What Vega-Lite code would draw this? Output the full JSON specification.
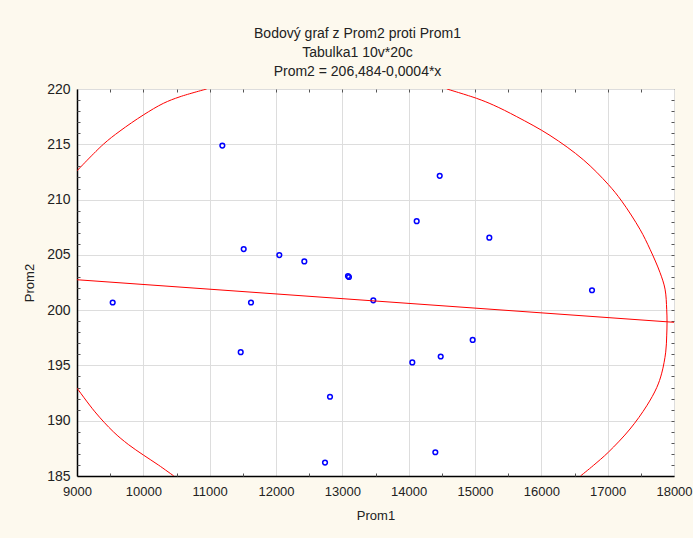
{
  "$schema": "https://vega.github.io/schema/vega-lite/v6.json",
  "width": 597,
  "height": 387,
  "autosize": {"type": "none"},
  "padding": {"left": 77, "top": 89, "right": 19, "bottom": 62},
  "background": "#fdf9ee",
  "config": {
    "view": {"fill": "#ffffff", "stroke": "#333333", "strokeWidth": 1},
    "font": "Liberation Sans"
  },
  "title": {
    "text": ["Bodový graf z Prom2 proti Prom1", "Tabulka1 10v*20c", "Prom2 = 206,484-0,0004*x"],
    "fontSize": 14,
    "fontWeight": "normal",
    "font": "Liberation Sans",
    "color": "#222222",
    "anchor": "middle",
    "lineHeight": 19,
    "offset": 3,
    "dx": -18
  },
  "datasets": {
    "pts": [
      {"Prom1": 9538, "Prom2": 200.69},
      {"Prom1": 11191, "Prom2": 214.88},
      {"Prom1": 11513, "Prom2": 205.52},
      {"Prom1": 11623, "Prom2": 200.69},
      {"Prom1": 12050, "Prom2": 204.98},
      {"Prom1": 12427, "Prom2": 204.41},
      {"Prom1": 13085, "Prom2": 203.08},
      {"Prom1": 13100, "Prom2": 203.0},
      {"Prom1": 13467, "Prom2": 200.89},
      {"Prom1": 14121, "Prom2": 208.05},
      {"Prom1": 14468, "Prom2": 212.15},
      {"Prom1": 15216, "Prom2": 206.55},
      {"Prom1": 16764, "Prom2": 201.8},
      {"Prom1": 11468, "Prom2": 196.2},
      {"Prom1": 12814, "Prom2": 192.17},
      {"Prom1": 12739, "Prom2": 186.21},
      {"Prom1": 14055, "Prom2": 195.27},
      {"Prom1": 14483, "Prom2": 195.81},
      {"Prom1": 14965, "Prom2": 197.31},
      {"Prom1": 14402, "Prom2": 187.15}
    ],
    "reg": [
      {"Prom1": 9000, "Prom2": 202.75},
      {"Prom1": 18000, "Prom2": 198.9}
    ],
    "ell": [
      {"seg": "tl", "ord": 1, "Prom1": 9000, "Prom2": 212.6},
      {"seg": "tl", "ord": 2, "Prom1": 9397, "Prom2": 215.0},
      {"seg": "tl", "ord": 3, "Prom1": 9648, "Prom2": 216.2},
      {"seg": "tl", "ord": 4, "Prom1": 10000, "Prom2": 217.65},
      {"seg": "tl", "ord": 5, "Prom1": 10301, "Prom2": 218.7},
      {"seg": "tl", "ord": 6, "Prom1": 10553, "Prom2": 219.3},
      {"seg": "tl", "ord": 7, "Prom1": 10955, "Prom2": 220},
      {"seg": "r", "ord": 1, "Prom1": 14575, "Prom2": 220},
      {"seg": "r", "ord": 2, "Prom1": 15026, "Prom2": 219.15},
      {"seg": "r", "ord": 3, "Prom1": 15276, "Prom2": 218.55},
      {"seg": "r", "ord": 4, "Prom1": 15629, "Prom2": 217.5},
      {"seg": "r", "ord": 5, "Prom1": 16131, "Prom2": 215.8},
      {"seg": "r", "ord": 6, "Prom1": 16633, "Prom2": 213.6},
      {"seg": "r", "ord": 7, "Prom1": 17010, "Prom2": 211.36},
      {"seg": "r", "ord": 8, "Prom1": 17212, "Prom2": 209.86},
      {"seg": "r", "ord": 9, "Prom1": 17488, "Prom2": 207.3},
      {"seg": "r", "ord": 10, "Prom1": 17639, "Prom2": 205.5},
      {"seg": "r", "ord": 11, "Prom1": 17789, "Prom2": 203.4},
      {"seg": "r", "ord": 12, "Prom1": 17865, "Prom2": 201.9},
      {"seg": "r", "ord": 13, "Prom1": 17890, "Prom2": 200.08},
      {"seg": "r", "ord": 14, "Prom1": 17895, "Prom2": 198.9},
      {"seg": "r", "ord": 15, "Prom1": 17890, "Prom2": 197.67},
      {"seg": "r", "ord": 16, "Prom1": 17875, "Prom2": 196.2},
      {"seg": "r", "ord": 17, "Prom1": 17815, "Prom2": 194.3},
      {"seg": "r", "ord": 18, "Prom1": 17740, "Prom2": 193.0},
      {"seg": "r", "ord": 19, "Prom1": 17589, "Prom2": 191.35},
      {"seg": "r", "ord": 20, "Prom1": 17337, "Prom2": 189.25},
      {"seg": "r", "ord": 21, "Prom1": 17010, "Prom2": 187.15},
      {"seg": "r", "ord": 22, "Prom1": 16784, "Prom2": 185.95},
      {"seg": "r", "ord": 23, "Prom1": 16590, "Prom2": 185},
      {"seg": "bl", "ord": 1, "Prom1": 9000, "Prom2": 192.95},
      {"seg": "bl", "ord": 2, "Prom1": 9271, "Prom2": 190.8},
      {"seg": "bl", "ord": 3, "Prom1": 9548, "Prom2": 189.0},
      {"seg": "bl", "ord": 4, "Prom1": 9774, "Prom2": 187.85},
      {"seg": "bl", "ord": 5, "Prom1": 10000, "Prom2": 186.9},
      {"seg": "bl", "ord": 6, "Prom1": 10226, "Prom2": 186.0},
      {"seg": "bl", "ord": 7, "Prom1": 10460, "Prom2": 185}
    ]
  },
  "resolve": {"scale": {"x": "shared", "y": "shared"}, "axis": {"x": "independent", "y": "independent"}},
  "layer": [
    {
      "data": {"name": "pts"},
      "mark": {"type": "point", "shape": "circle", "filled": false, "color": "#0000ff", "size": 22, "strokeWidth": 1.5, "opacity": 1},
      "encoding": {
        "x": {"field": "Prom1", "type": "quantitative",
          "scale": {"domain": [9000, 18000], "nice": false, "zero": false},
          "axis": {"orient": "bottom", "title": "Prom1", "values": [9000, 10000, 11000, 12000, 13000, 14000, 15000, 16000, 17000, 18000],
            "format": "d", "grid": true, "gridColor": "#dddddd", "gridWidth": 1, "ticks": false,
            "domainColor": "#000000", "domainWidth": 1.5, "labelFontSize": 13, "labelColor": "#222222",
            "labelPadding": 9, "labelFont": "Liberation Sans", "labelFlush": false, "labelOverlap": false,
            "titleFontSize": 13, "titleFontWeight": "normal", "titleColor": "#222222", "titleFont": "Liberation Sans",
            "titlePadding": 11, "titleAnchor": "middle"}},
        "y": {"field": "Prom2", "type": "quantitative",
          "scale": {"domain": [185, 220], "nice": false, "zero": false},
          "axis": {"orient": "left", "title": "Prom2", "values": [185, 190, 195, 200, 205, 210, 215, 220],
            "grid": true, "gridColor": "#dddddd", "gridWidth": 1, "ticks": false,
            "domainColor": "#000000", "domainWidth": 1.5, "labelFontSize": 14, "labelColor": "#222222",
            "labelPadding": 7, "labelFont": "Liberation Sans", "labelFlush": false, "labelOverlap": false,
            "titleFontSize": 13, "titleFontWeight": "normal", "titleColor": "#222222", "titleFont": "Liberation Sans",
            "titlePadding": 10}}
      }
    },
    {
      "data": {"name": "reg"},
      "mark": {"type": "line", "color": "#ff0000", "strokeWidth": 1, "clip": true},
      "encoding": {
        "x": {"field": "Prom1", "type": "quantitative",
          "axis": {"orient": "bottom", "title": null, "labels": false, "domain": false, "grid": false,
            "values": [9500, 10500, 11500, 12500, 13500, 14500, 15500, 16500, 17500],
            "tickSize": -3, "tickColor": "#555555"}},
        "y": {"field": "Prom2", "type": "quantitative",
          "axis": {"orient": "left", "title": null, "labels": false, "domain": false, "grid": false,
            "values": [186, 187, 188, 189, 191, 192, 193, 194, 196, 197, 198, 199, 201, 202, 203, 204, 206, 207, 208, 209, 211, 212, 213, 214, 216, 217, 218, 219],
            "tickSize": -3, "tickColor": "#555555"}}
      }
    },
    {
      "data": {"name": "ell"},
      "mark": {"type": "line", "color": "#ff0000", "strokeWidth": 1, "clip": true, "interpolate": "catmull-rom"},
      "encoding": {
        "x": {"field": "Prom1", "type": "quantitative",
          "axis": {"orient": "top", "title": null, "labels": false, "domain": false, "grid": false,
            "values": [9500, 10000, 10500, 11000, 11500, 12000, 12500, 13000, 13500, 14000, 14500, 15000, 15500, 16000, 16500, 17000, 17500],
            "tickSize": -3, "tickColor": "#555555"}},
        "y": {"field": "Prom2", "type": "quantitative",
          "axis": {"orient": "right", "title": null, "labels": false, "domain": false, "grid": false,
            "values": [186, 187, 188, 189, 190, 191, 192, 193, 194, 195, 196, 197, 198, 199, 200, 201, 202, 203, 204, 205, 206, 207, 208, 209, 210, 211, 212, 213, 214, 215, 216, 217, 218, 219],
            "tickSize": -3, "tickColor": "#555555"}},
        "detail": {"field": "seg", "type": "nominal"},
        "order": {"field": "ord", "type": "quantitative"}
      }
    }
  ]
}
